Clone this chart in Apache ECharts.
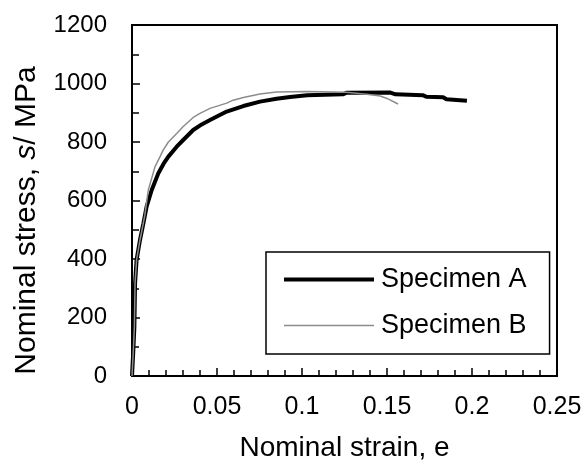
<!DOCTYPE html>
<html>
<head>
<meta charset="utf-8">
<script src="https://cdn.jsdelivr.net/npm/echarts@6/dist/echarts.min.js"></script>
<style>
html,body{margin:0;padding:0;background:#fff;}
#chart{width:588px;height:469px;}
</style>
</head>
<body>
<div id="chart"></div>
<script>
// Specimen A: [nominal strain, nominal stress (MPa)]
var specimenA = [
  [0,0],[0.0008,90],[0.0014,169],[0.0018,317],[0.0027,397],[0.0047,465],[0.0067,522],
  [0.0086,579],[0.0116,636],[0.0155,693],[0.0185,725],[0.0214,750],[0.0263,784],[0.031,812],
  [0.036,841],[0.041,860],[0.0459,875],[0.0557,904],[0.0655,923],[0.0753,938],[0.085,948],
  [0.093,954],[0.103,960],[0.124,963],[0.126,968],[0.152,969],[0.155,963],[0.171,960],
  [0.173,955],[0.183,953],[0.185,946],[0.197,941]
];
// Specimen B
var specimenB = [
  [0,0],[0.0008,90],[0.0014,169],[0.0018,317],[0.0027,397],[0.0047,465],[0.0075,548],
  [0.0096,636],[0.0135,715],[0.0165,750],[0.0184,773],[0.0214,800],[0.0263,829],[0.030,852],
  [0.036,884],[0.04,898],[0.0459,915],[0.0557,933],[0.0595,943],[0.0655,952],[0.0753,964],
  [0.085,971],[0.103,973],[0.126,970],[0.138,963],[0.146,957],[0.150,949],[0.1565,930]
];
var seriesNames = ['Specimen A', 'Specimen B'];
var xTitle = 'Nominal strain, e';

var chart = echarts.init(document.getElementById('chart'), null, {renderer: 'canvas'});
var FONT = 'Liberation Sans, Arial, sans-serif';
chart.setOption({
  animation: false,
  backgroundColor: '#fff',
  grid: {left: 132, right: 31, top: 25, bottom: 93, show: true, borderColor: '#000', borderWidth: 2, backgroundColor: 'transparent'},
  xAxis: {
    type: 'value', min: 0, max: 0.25, interval: 0.05,
    axisLine: {show: true, onZero: false, lineStyle: {color: '#000', width: 2}},
    axisTick: {show: true, inside: true, length: 8, lineStyle: {color: '#000', width: 1.5}},
    minorTick: {show: true, splitNumber: 5, length: 6, lineStyle: {color: '#000', width: 1.5}},
    splitLine: {show: false},
    axisLabel: {color: '#000', fontSize: 25, fontFamily: FONT, margin: 19,
      formatter: function (v) { return String(+v.toFixed(2)); }},
    name: xTitle, nameLocation: 'middle', nameGap: 58,
    nameTextStyle: {color: '#000', fontSize: 28, fontFamily: FONT}
  },
  yAxis: {
    type: 'value', min: 0, max: 1200, interval: 200,
    axisLine: {show: true, onZero: false, lineStyle: {color: '#000', width: 2}},
    axisTick: {show: true, inside: true, length: 8, lineStyle: {color: '#000', width: 1.5}},
    minorTick: {show: true, splitNumber: 2, length: 7, lineStyle: {color: '#000', width: 1.5}},
    splitLine: {show: false},
    axisLabel: {color: '#000', fontSize: 24, fontFamily: FONT, margin: 25,
      formatter: function (v) { return String(Math.round(v)); }},
    name: '{n|Nominal stress, }{i|s}{n|/ MPa}', nameLocation: 'middle', nameGap: 90,
    nameTextStyle: {
      color: '#000', fontSize: 30, fontFamily: FONT, padding: [0, 40, 0, 0],
      rich: {
        n: {color: '#000', fontSize: 30, fontFamily: FONT},
        i: {color: '#000', fontSize: 30, fontFamily: FONT, fontStyle: 'italic'}
      }
    }
  },
  legend: {
    show: true, orient: 'vertical', left: 266, top: 252,
    padding: [14, 23, 15, 16], itemWidth: 90, itemHeight: 28, itemGap: 19,
    borderColor: '#000', borderWidth: 1.5, backgroundColor: '#fff',
    textStyle: {color: '#000', fontSize: 27, fontFamily: FONT, padding: [0, 0, 0, 2]},
    itemStyle: {opacity: 0},
    data: [
      {name: seriesNames[0], itemStyle: {opacity: 0}, lineStyle: {color: '#000', width: 4}},
      {name: seriesNames[1], itemStyle: {opacity: 0}, lineStyle: {color: '#8c8c8c', width: 1.5}}
    ]
  },
  series: [
    {
      name: seriesNames[0], type: 'line', data: specimenA, symbol: 'none', showSymbol: false,
      lineStyle: {color: '#000', width: 4}, itemStyle: {color: '#000'}, z: 2
    },
    {
      name: seriesNames[1], type: 'line', data: specimenB, symbol: 'none', showSymbol: false,
      lineStyle: {color: '#8c8c8c', width: 1.5}, itemStyle: {color: '#8c8c8c'}, z: 3
    }
  ]
});
</script>
</body>
</html>
